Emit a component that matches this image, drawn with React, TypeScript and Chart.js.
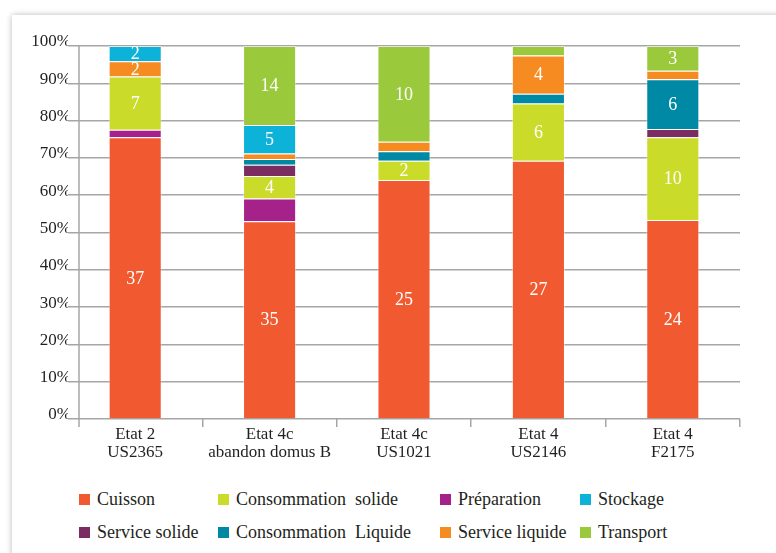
import React, { useEffect, useRef } from "react";
import { Chart, registerables } from "chart.js";

Chart.register(...registerables);

const categories: string[][] = [
  ["Etat 2", "US2365"],
  ["Etat 4c", "abandon domus B"],
  ["Etat 4c", "US1021"],
  ["Etat 4", "US2146"],
  ["Etat 4", "F2175"],
];

// counts per bar (stack order, bottom to top)
const cuisson = [37, 35, 25, 27, 24];
const preparation = [1, 4, 0, 0, 0];
const consSolide = [7, 4, 2, 6, 10];
const serviceSolide = [0, 2, 0, 0, 1];
const consLiquide = [0, 1, 1, 1, 6];
const serviceLiquide = [2, 1, 1, 4, 1];
const stockage = [2, 5, 0, 0, 0];
const transport = [0, 14, 10, 1, 3];

const yTicks = [0, 10, 20, 30, 40, 50, 60, 70, 80, 90, 100];

const series = [
  { name: "Cuisson", data: cuisson, color: "#F15A31" },
  { name: "Préparation", data: preparation, color: "#A5228B" },
  { name: "Consommation  solide", data: consSolide, color: "#CBDB2A" },
  { name: "Service solide", data: serviceSolide, color: "#7B2D62" },
  { name: "Consommation  Liquide", data: consLiquide, color: "#0089A4" },
  { name: "Service liquide", data: serviceLiquide, color: "#F68B21" },
  { name: "Stockage", data: stockage, color: "#0CB2D7" },
  { name: "Transport", data: transport, color: "#9BC93C" },
];

const legendOrder = [
  "Cuisson",
  "Consommation  solide",
  "Préparation",
  "Stockage",
  "Service solide",
  "Consommation  Liquide",
  "Service liquide",
  "Transport",
];

const labelMin = 2;
const hiddenLabels: [string, number][] = [
  ["Préparation", 1],
  ["Service solide", 1],
];

const FONT = "'Liberation Serif', 'Times New Roman', serif";
const TEXT = "#231F20";
const GRID = "#a6a6a6";

const totals = categories.map((_, i) =>
  series.reduce((s, d) => s + d.data[i], 0)
);

export default function App() {
  const ref = useRef<HTMLCanvasElement | null>(null);

  useEffect(() => {
    if (!ref.current) return;
    const valueLabels = {
      id: "valueLabels",
      afterDatasetsDraw(chart: any) {
        const ctx = chart.ctx;
        ctx.save();
        ctx.fillStyle = "#ffffff";
        ctx.font = `18px ${FONT}`;
        ctx.textAlign = "center";
        ctx.textBaseline = "middle";
        chart.data.datasets.forEach((ds: any, di: number) => {
          const meta = chart.getDatasetMeta(di);
          meta.data.forEach((el: any, j: number) => {
            const v = ds.counts[j];
            if (v < labelMin) return;
            if (hiddenLabels.some(([n, k]) => n === ds.label && k === j)) return;
            ctx.fillText(String(v), el.x, (el.y + el.base) / 2 + 1);
          });
        });
        ctx.restore();
      },
    };
    const yAxisLine = {
      id: "yAxisLine",
      beforeDatasetsDraw(chart: any) {
        const { ctx, chartArea } = chart;
        const x = chartArea.left + 11;
        ctx.save();
        ctx.strokeStyle = GRID;
        ctx.lineWidth = 1.5;
        ctx.beginPath();
        ctx.moveTo(x, chartArea.top);
        ctx.lineTo(x, chartArea.bottom + 8);
        ctx.stroke();
        ctx.restore();
      },
    };
    const chart = new Chart(ref.current, {
      type: "bar",
      data: {
        labels: categories,
        datasets: series.map((s) => ({
          label: s.name,
          counts: s.data,
          data: s.data.map((v, i) => (v / totals[i]) * 100),
          backgroundColor: s.color,
          borderColor: "rgba(255,255,255,0.45)",
          borderWidth: 1,
          barPercentage: 0.395,
          categoryPercentage: 1,
        })) as any,
      },
      options: {
        animation: false,
        responsive: false,
        maintainAspectRatio: false,
        layout: { padding: { left: 0, right: 36, top: 46, bottom: 11 } },
        plugins: { legend: { display: false }, tooltip: { enabled: false } },
        scales: {
          x: {
            stacked: true,
            border: { display: false },
            grid: {
              offset: true,
              drawOnChartArea: false,
              drawTicks: true,
              tickLength: 8,
              lineWidth: 1.5,
              color: (c: any) => (c.index === 0 ? "rgba(0,0,0,0)" : GRID),
            },
            ticks: {
              padding: -2,
              color: TEXT,
              font: { family: FONT, size: 17, lineHeight: 1.08 },
              maxRotation: 0,
              autoSkip: false,
            },
            afterFit: (s: any) => {
              s.height = 50;
            },
          },
          y: {
            stacked: true,
            min: 0,
            max: 100,
            border: { display: false },
            grid: { drawTicks: false, color: GRID, lineWidth: 1.5 },
            afterBuildTicks: (s: any) => {
              s.ticks = yTicks.map((v) => ({ value: v }));
            },
            ticks: {
              padding: -3,
              labelOffset: -4,
              color: TEXT,
              font: { family: FONT, size: 17 },
              callback: (v: any) => `${v}%`,
            },
            afterFit: (s: any) => {
              s.width = 68;
            },
          },
        },
      } as any,
      plugins: [yAxisLine, valueLabels],
    });
    return () => chart.destroy();
  }, []);

  const legendItems = legendOrder.map((n) => series.find((s) => s.name === n)!);

  return (
    <div
      style={{
        position: "fixed",
        left: 0,
        top: 0,
        width: 776,
        height: 553,
        overflow: "hidden",
        background: "#ffffff",
      }}
    >
      <div
        style={{
          position: "absolute",
          left: 12,
          top: 15,
          width: 780,
          height: 560,
          background: "#ffffff",
          boxShadow: "0 0 6px rgba(0,0,0,0.28)",
        }}
      />
      <canvas
        ref={ref}
        width={776}
        height={480}
        style={{ position: "absolute", left: 0, top: 0, width: 776, height: 480 }}
      />
      <div
        style={{
          position: "absolute",
          left: 79,
          top: 483,
          display: "grid",
          gridTemplateColumns: "139px 222px 140px 150px",
          gridAutoRows: "33px",
          fontFamily: FONT,
          fontSize: 18,
          color: TEXT,
        }}
      >
        {legendItems.map((s) => (
          <div
            key={s.name}
            style={{ display: "flex", alignItems: "center", whiteSpace: "pre" }}
          >
            <span
              style={{
                display: "inline-block",
                width: 11,
                height: 11,
                background: s.color,
                marginRight: 7,
              }}
            />
            <span>{s.name}</span>
          </div>
        ))}
      </div>
    </div>
  );
}
